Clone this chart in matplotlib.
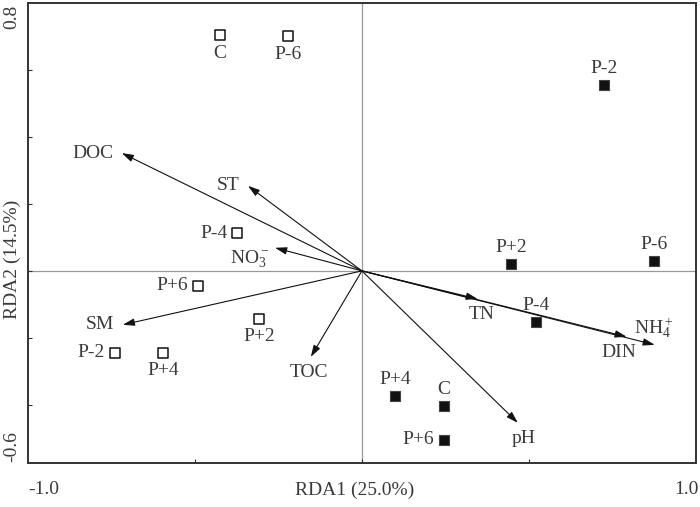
import matplotlib
matplotlib.use("Agg")
import matplotlib.pyplot as plt

plt.rcParams['font.family'] = ['Liberation Serif', 'DejaVu Serif']
plt.rcParams['mathtext.fontset'] = 'custom'
plt.rcParams['mathtext.rm'] = 'Liberation Serif'
plt.rcParams['mathtext.it'] = 'Liberation Serif:italic'
plt.rcParams['mathtext.default'] = 'rm'

# Site scores (open squares)
open_labels = ["C", "P-6", "P-4", "P+6", "P+2", "P-2", "P+4"]
open_x = [-0.425, -0.222, -0.374, -0.491, -0.308, -0.740, -0.596]
open_y = [0.704, 0.701, 0.113, -0.045, -0.143, -0.245, -0.245]
open_pos = ["below", "below", "left", "left", "below", "left", "below"]

# Site scores (filled squares)
fill_labels = ["P-2", "P+2", "P-6", "P-4", "P+4", "C", "P+6"]
fill_x = [0.725, 0.446, 0.874, 0.521, 0.099, 0.246, 0.246]
fill_y = [0.555, 0.021, 0.030, -0.152, -0.373, -0.403, -0.504]
fill_pos = ["above", "above", "above", "above", "above", "above", "left"]

# Environmental vectors
env_labels = ["DOC", "ST", "NO$_3^-$", "SM", "TOC", "TN", "DIN", "NH$_4^+$", "pH"]
env_x = [-0.719, -0.341, -0.260, -0.716, -0.153, 0.347, 0.793, 0.877, 0.467]
env_y = [0.352, 0.254, 0.069, -0.161, -0.257, -0.084, -0.197, -0.221, -0.454]
# label offsets in points
env_off = [(-6, 0), (-6, 0), (-4, -8), (-6, 0), (-1, -11), (3, -11), (-6, -11), (-1, 12), (4, -11)]
env_ha = ["right", "right", "right", "right", "center", "center", "center", "center", "center"]

xlim = (-1.0, 1.0)
ylim = (-0.574, 0.8)

fig = plt.figure(figsize=(7.0, 5.07), dpi=100)
ax = fig.add_axes([0.04, 0.0868, 0.954, 0.907])
ax.set_xlim(*xlim)
ax.set_ylim(*ylim)

txtcol = "#3a3a3a"
fs = 14

ax.axhline(0, color="#999999", lw=0.9, zorder=1)
ax.axvline(0, color="#999999", lw=0.9, zorder=1)

for lab, x, y, dx, ha in zip(env_labels, env_x, env_y, env_off, env_ha):
    ax.annotate("", xy=(x, y), xytext=(0, 0),
                arrowprops=dict(arrowstyle="-|>,head_length=0.7,head_width=0.22",
                                color="#111111", lw=0.8, shrinkA=0, shrinkB=0),
                zorder=3)
    ax.annotate(lab, xy=(x, y), xytext=dx, textcoords="offset points",
                ha=ha, va="center", fontsize=fs, color=txtcol, zorder=4)

def place(labels, xs, ys, poss):
    for lab, x, y, p in zip(labels, xs, ys, poss):
        if p == "below":
            off, ha = (0, -13), "center"
        elif p == "above":
            off, ha = (0, 12), "center"
        else:
            off, ha = (-7, 0), "right"
        ax.annotate(lab, xy=(x, y), xytext=off, textcoords="offset points",
                    ha=ha, va="center", fontsize=fs, color=txtcol, zorder=4)

ax.scatter(open_x, open_y, marker="s", s=42, facecolor="white",
           edgecolor="#111111", linewidths=1.1, zorder=5)
ax.scatter(fill_x, fill_y, marker="s", s=42, facecolor="#111111",
           edgecolor="#444444", linewidths=0.8, zorder=5)
place(open_labels, open_x, open_y, open_pos)
place(fill_labels, fill_x, fill_y, fill_pos)

ax.set_xticks([-0.5, 0, 0.5])
ax.set_yticks([-0.4, -0.2, 0, 0.2, 0.4, 0.6])
ax.tick_params(direction="in", length=3, width=0.8, labelbottom=False, labelleft=False,
               color="#333333")
for s in ax.spines.values():
    s.set_linewidth(1.4)
    s.set_color("#333333")

fig.text(44/700, 1 - 489/507, "-1.0", ha="center", va="center", fontsize=fs, color=txtcol)
fig.text(686/700, 1 - 489/507, "1.0", ha="center", va="center", fontsize=fs, color=txtcol)
fig.text(12/700, 1 - 17/507, "0.8", ha="center", va="center", fontsize=fs, color=txtcol, rotation=90)
fig.text(12/700, 1 - 447/507, "-0.6", ha="center", va="center", fontsize=fs, color=txtcol, rotation=90)
fig.text(355/700, 1 - 490/507, "RDA1 (25.0%)", ha="center", va="center", fontsize=fs, color=txtcol)
fig.text(12/700, 1 - 259/507, "RDA2 (14.5%)", ha="center", va="center", fontsize=fs, color=txtcol, rotation=90)

fig.savefig("out.png", dpi=100)
